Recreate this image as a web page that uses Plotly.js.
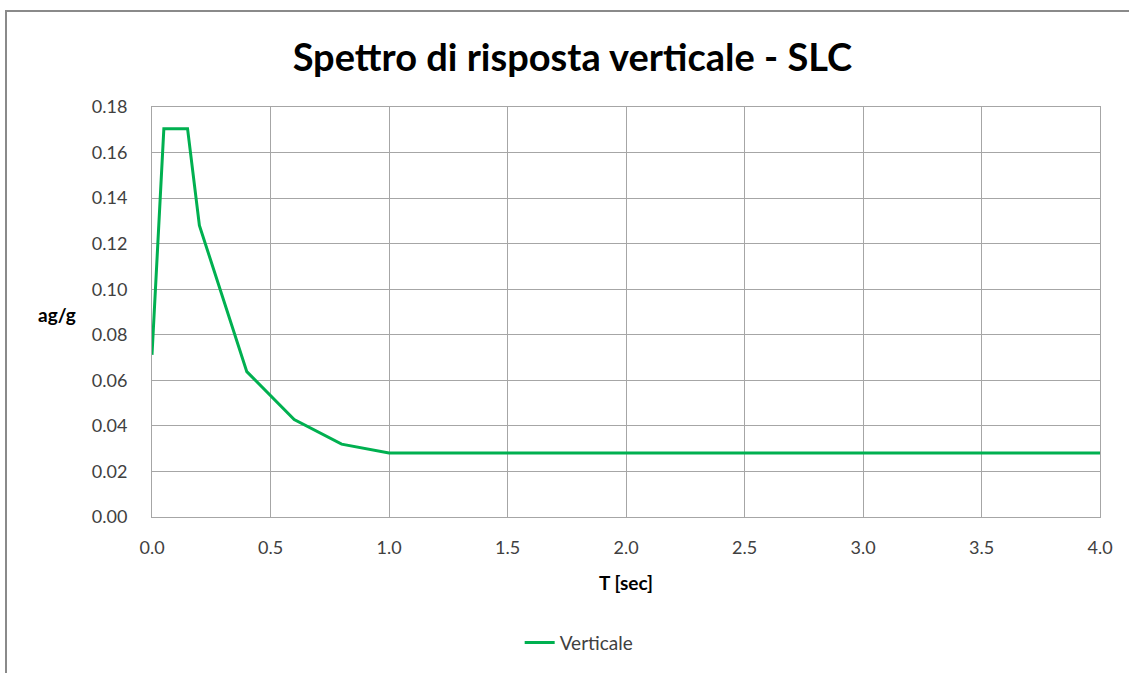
<!DOCTYPE html>
<html>
<head>
<meta charset="utf-8">
<script src="https://cdn.plot.ly/plotly-3.0.1.min.js"></script>
<style>
  html, body { margin: 0; padding: 0; background: #fff; overflow: hidden; }
  #wrap { position: relative; width: 1129px; height: 673px; }
  #chart { position: absolute; left: 0; top: 0; width: 1129px; height: 673px; }
  #frame { position: absolute; left: 5px; top: 10px; width: 1140px; height: 700px;
           border-top: 2px solid #8a8a8a; border-left: 2px solid #8a8a8a; pointer-events: none; }
</style>
</head>
<body>
<div id="wrap">
  <div id="chart"></div>
  <div id="frame"></div>
</div>
<script>
const periodT = [0, 0.05, 0.15, 0.2, 0.4, 0.6, 0.8, 1.0, 1.5, 2.0, 2.5, 3.0, 3.5, 4.0];
const spectrumVerticale = [0.0712, 0.1705, 0.1705, 0.128, 0.0638, 0.0428, 0.032, 0.0281, 0.0281, 0.0281, 0.0281, 0.0281, 0.0281, 0.0281];
const seriesName = 'Verticale';
const chartTitle = 'Spettro di risposta verticale - SLC';
const xTitle = 'T [sec]';
const yTitle = 'ag/g';

const FONT = 'Lato, Calibri, "Open Sans", sans-serif';

const trace = {
  x: periodT,
  y: spectrumVerticale,
  type: 'scatter',
  mode: 'lines',
  name: seriesName,
  line: { color: '#00b050', width: 3 }
};

const layout = {
  width: 1129,
  height: 673,
  paper_bgcolor: '#ffffff',
  plot_bgcolor: '#ffffff',
  margin: { l: 152, r: 29, t: 107, b: 156 },
  font: { family: FONT, color: '#404040', size: 18 },
  title: {
    text: chartTitle,
    font: { family: FONT, size: 38, color: '#000000', weight: 'bold' },
    x: 0.507, xref: 'container', xanchor: 'center',
    y: 0.915, yref: 'container', yanchor: 'middle'
  },
  xaxis: {
    range: [0, 4],
    dtick: 0.5,
    tickformat: '.1f',
    showgrid: true,
    gridcolor: '#a6a6a6',
    gridwidth: 1,
    showline: true,
    linecolor: '#a6a6a6',
    linewidth: 1,
    mirror: true,
    zeroline: false,
    ticks: '',
    ticklen: 0,
    ticklabelstandoff: 14,
    tickfont: { family: FONT, size: 18, color: '#404040' },
    title: { text: '<b>' + xTitle + '</b>', font: { family: FONT, size: 19, color: '#000000' }, standoff: 20 }
  },
  yaxis: {
    range: [0, 0.18],
    dtick: 0.02,
    tickformat: '.2f',
    showgrid: true,
    gridcolor: '#a6a6a6',
    gridwidth: 1,
    showline: true,
    linecolor: '#a6a6a6',
    linewidth: 1,
    mirror: true,
    zeroline: false,
    ticks: '',
    ticklen: 0,
    ticklabelstandoff: 20,
    tickfont: { family: FONT, size: 18, color: '#404040' }
  },
  annotations: [{
    text: '<b>' + yTitle + '</b>',
    xref: 'paper', yref: 'paper',
    x: -0.1, y: 0.495,
    xanchor: 'center', yanchor: 'middle',
    showarrow: false,
    font: { family: FONT, size: 19, color: '#000000' }
  }],
  showlegend: true,
  legend: {
    orientation: 'h',
    x: 0.513, xref: 'container', xanchor: 'center',
    y: 0.045, yref: 'container', yanchor: 'middle',
    font: { family: FONT, size: 19, color: '#404040' },
    bgcolor: 'rgba(0,0,0,0)'
  }
};

Plotly.newPlot('chart', [trace], layout, { displayModeBar: false, staticPlot: true });
</script>
</body>
</html>
